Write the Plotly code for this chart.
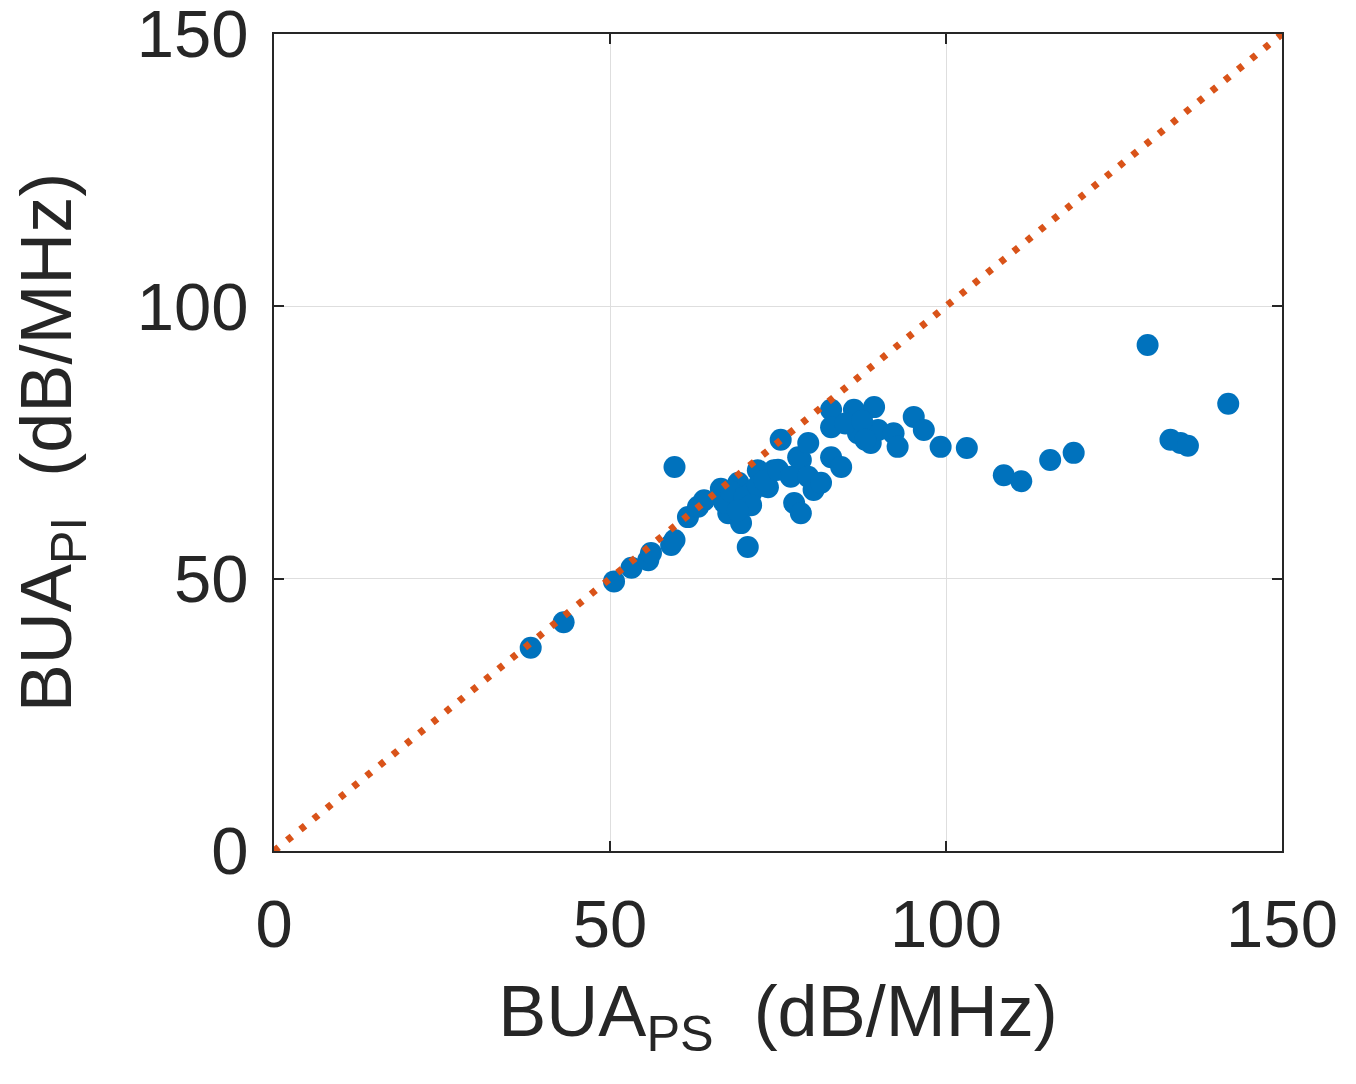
import plotly.graph_objects as go

bua_ps = [38.2, 43.1, 50.6, 53.2, 55.7, 56.1, 59.1, 59.6, 59.6, 61.6, 63.1, 64.0, 66.5,
          69.1, 72.0, 75.4, 67.6, 69.5, 70.5, 71.0, 73.5, 77.4, 78.4, 78.4, 74.4,
          67.0, 68.0, 70.0, 72.0, 73.0, 71.0, 69.0, 75.0, 76.9, 78.0, 79.5, 79.5,
          80.3, 81.4, 82.9, 82.9, 82.9, 84.4, 86.3, 86.9, 88.8, 89.3, 89.9, 92.2,
          92.8, 95.2, 96.7, 99.2, 103.1, 108.6, 111.2, 115.5, 119.0, 130.0, 133.4,
          134.9, 136.0, 142.0, 85.0, 87.5, 88.0]
bua_pi = [37.3, 42.0, 49.5, 52.0, 53.4, 54.7, 56.2, 57.1, 70.5, 61.3, 63.2, 64.4, 66.5,
          67.6, 69.9, 75.5, 62.0, 60.2, 55.8, 65.7, 66.8, 63.9, 62.0, 71.8, 69.9,
          64.0, 66.0, 65.0, 67.0, 68.0, 63.5, 62.5, 70.0, 68.7, 72.3, 74.9, 68.7,
          66.3, 67.6, 81.0, 77.8, 72.3, 70.5, 81.0, 76.7, 74.9, 81.5, 77.3, 76.7,
          74.2, 79.7, 77.3, 74.2, 74.0, 69.0, 67.9, 71.8, 73.1, 92.9, 75.5,
          74.9, 74.4, 82.1, 78.5, 79.0, 75.5]

line_x = [0, 150]
line_y = [0, 150]

x_ticks = [0, 50, 100, 150]
y_ticks = [0, 50, 100, 150]

fig = go.Figure()
fig.add_trace(go.Scatter(
    x=bua_ps, y=bua_pi, mode="markers",
    marker=dict(color="#0072BD", size=22, line=dict(width=0)),
    showlegend=False, cliponaxis=False))
fig.add_trace(go.Scatter(
    x=line_x, y=line_y, mode="lines",
    line=dict(color="#D95319", width=7, dash="6px,11px"),
    showlegend=False, cliponaxis=False))

font = "Liberation Sans, Arial, Helvetica, sans-serif"
axis_common = dict(
    range=[0, 150], showgrid=True, gridcolor="#DEDEDE", gridwidth=1,
    showline=True, linecolor="#262626", linewidth=2, mirror="ticks",
    ticks="inside", ticklen=10, tickwidth=2, tickcolor="#262626",
    zeroline=False, ticklabeloverflow="allow", automargin=False,
    tickfont=dict(family=font, size=67, color="#262626"),
)
title_font = dict(family=font, size=72, color="#262626")
fig.update_layout(
    width=1356, height=1084,
    margin=dict(l=274, r=74, t=34, b=233, autoexpand=False),
    plot_bgcolor="white", paper_bgcolor="white",
    xaxis=dict(**axis_common, tickvals=x_ticks, ticklabelstandoff=14,
               title=dict(text="BUA<sub>PS</sub>  (dB/MHz)",
                          font=title_font, standoff=25)),
    yaxis=dict(**axis_common, tickvals=y_ticks, ticklabelstandoff=10,
               title=dict(text="BUA<sub>PI</sub>  (dB/MHz)",
                          font=title_font, standoff=42)),
)
fig.write_html("out.html")
